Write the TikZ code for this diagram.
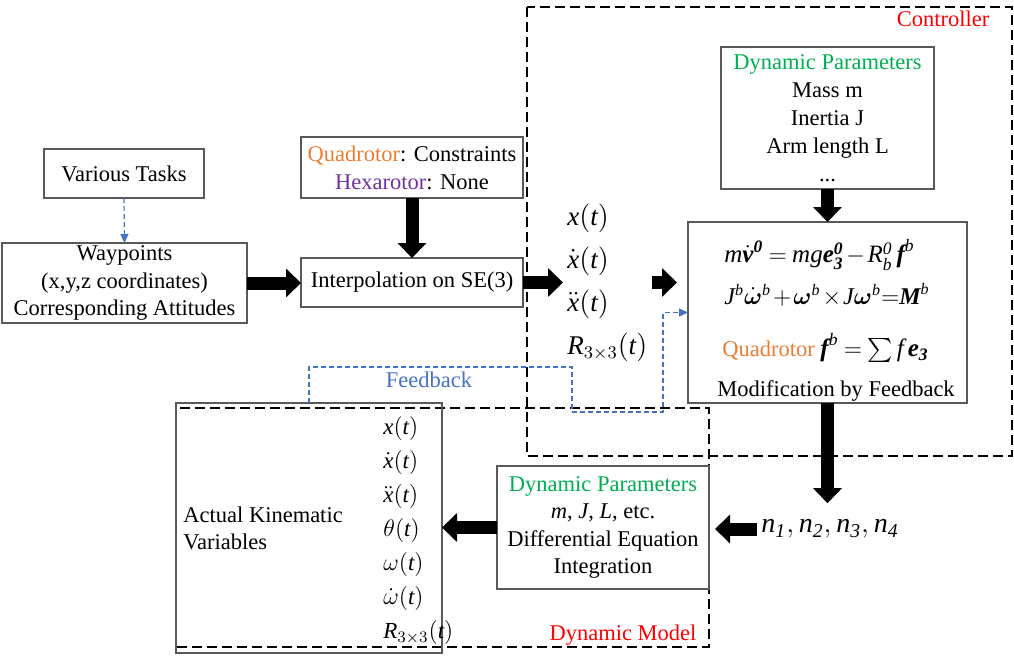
\documentclass[tikz,border=0pt]{standalone}
\usepackage{amsmath}
\usepackage{bm}
\usepackage{fontspec}
\setmainfont{Liberation Serif}
\newfontfamily\tmsfam{Liberation Serif}[NFSSFamily=tms]
\DeclareSymbolFont{tmsit}{TU}{tms}{m}{it}
\SetSymbolFont{tmsit}{bold}{TU}{tms}{b}{it}
\DeclareSymbolFont{tmsup}{TU}{tms}{m}{n}
\SetSymbolFont{tmsup}{bold}{TU}{tms}{b}{n}
\DeclareMathSymbol{b}{\mathalpha}{tmsit}{`b}\DeclareMathSymbol{e}{\mathalpha}{tmsit}{`e}
\DeclareMathSymbol{f}{\mathalpha}{tmsit}{`f}\DeclareMathSymbol{g}{\mathalpha}{tmsit}{`g}
\DeclareMathSymbol{m}{\mathalpha}{tmsit}{`m}\DeclareMathSymbol{n}{\mathalpha}{tmsit}{`n}
\DeclareMathSymbol{t}{\mathalpha}{tmsit}{`t}\DeclareMathSymbol{v}{\mathalpha}{tmsit}{`v}
\DeclareMathSymbol{x}{\mathalpha}{tmsit}{`x}\DeclareMathSymbol{J}{\mathalpha}{tmsit}{`J}
\DeclareMathSymbol{L}{\mathalpha}{tmsit}{`L}\DeclareMathSymbol{M}{\mathalpha}{tmsit}{`M}
\DeclareMathSymbol{R}{\mathalpha}{tmsit}{`R}
\DeclareMathSymbol{0}{\mathalpha}{tmsup}{`0}\DeclareMathSymbol{3}{\mathalpha}{tmsup}{`3}
\DeclareMathSymbol{(}{\mathopen}{tmsup}{`(}\DeclareMathSymbol{)}{\mathclose}{tmsup}{`)}
\newcommand{\itd}[1]{\mathit{#1}}
\newcommand{\tightmath}{\medmuskip=2mu\relax\thickmuskip=4mu\relax}
\usetikzlibrary{arrows.meta}
\definecolor{quadorange}{HTML}{ED7D31}
\definecolor{hexpurple}{HTML}{7030A0}
\definecolor{paramgreen}{HTML}{00B050}
\definecolor{fbblue}{HTML}{4472C4}

\begin{document}
\begin{tikzpicture}[x=0.5pt, y=-0.5pt,
	box/.style={draw=black!65, line width=0.6pt, inner sep=0pt, outer sep=0pt, align=center, font=\fontsize{11.25}{13.75}\selectfont},
	region/.style={line width=1pt, dash pattern=on 5pt off 2.5pt},
	bigarrow/.style={line width=6.5pt, -{Triangle[width=14pt,length=7.5pt]}},
	fbarrow/.style={draw=fbblue, line width=0.6pt, dash pattern=on 2.5pt off 1.5pt, -{Triangle[width=4pt,length=4.5pt]}},
	txt/.style={inner sep=0pt, font=\fontsize{11.25}{13.5}\selectfont},
	eqtxt/.style={inner sep=0pt, anchor=west, font=\fontsize{12.5}{14}\selectfont}
	]
		%%%%% START %%%%%
		\useasboundingbox (0,0) rectangle (1014,659);
		
		\draw[region] (527,7) rectangle (1012,456);
		\draw[region] (176,408) rectangle (709,647);
		
		\node[box, minimum width=80pt, minimum height=24.5pt] (tasks) at (124,173.5) {Various Tasks};
		\node[box, minimum width=122.5pt, minimum height=40pt] (waypts) at (124.5,283) {Waypoints\\(x,y,z coordinates)\\Corresponding Attitudes};
		\node[box, minimum width=111pt, minimum height=30.5pt, font=\fontsize{11.25}{14}\selectfont] (constr) at (412,167.5) {\textcolor{quadorange}{Quadrotor}: Constraints\\\textcolor{hexpurple}{Hexarotor}: None};
		\node[box, minimum width=111pt, minimum height=24.5pt] (interp) at (412,282.5) {Interpolation on SE(3)};
		
		\node[anchor=west, align=left, inner sep=2pt, font=\fontsize{13.5}{21.5}\selectfont] (traj) at (563,282.5) {$x(t)$\\$\dot x(t)$\\$\ddot x(t)$\\$R_{3\times3}(t)$};
		
		\node[box, minimum width=106.5pt, minimum height=71pt, font=\fontsize{11.25}{14}\selectfont] (dynpar) at (827.5,118) {\textcolor{paramgreen}{Dynamic Parameters}\\Mass m\\Inertia J\\Arm length L\\...};
		\node[box, minimum width=139.5pt, minimum height=90.5pt] (eqs) at (827.5,312.5) {};
		\node[eqtxt] (eqa) at (724,255) {$\tightmath m\dot{\bm v}^{\bm{\itd 0}}=mg\bm e_{\bm{\itd 3}}^{\bm{\itd 0}}-R_b^{\itd 0}\,\bm f^b$};
		\node[eqtxt, font=\fontsize{12}{14}\selectfont] (eqb) at (724,295) {$\medmuskip=1.5mu\relax J^b\dot{\bm\omega}^b+\bm\omega^b\times J\bm\omega^b{=}\bm M^b$};
		\node[eqtxt] (eqc) at (722,348) {\fontsize{11.25}{13.5}\selectfont\textcolor{quadorange}{Quadrotor} \fontsize{12.5}{15}\selectfont$\tightmath\bm f^b=\sum f\,\bm e_{\bm{\itd 3}}$};
		\node[txt] (eqd) at (836,391) {Modification by Feedback};
		
		\node[inner sep=2pt, font=\fontsize{14}{17}\selectfont] (nvars) at (830,529) {$n_{\itd 1},n_{\itd 2},n_{\itd 3},n_{\itd 4}$};
		
		\node[box, minimum width=106pt, minimum height=61.5pt] (integ) at (603,527.5) {\textcolor{paramgreen}{Dynamic Parameters}\\$m$, $J$, $L$, etc.\\Differential Equation\\Integration};
		\node[box, minimum width=133pt, minimum height=125pt] (actual) at (309,528) {};
		\node[txt, anchor=west, align=left] (kinlabel) at (183,528.5) {Actual Kinematic\\Variables};
		\node[anchor=west, align=left, inner sep=0pt, font=\fontsize{11.5}{17}\selectfont] (kinvars) at (383,530.5) {$x(t)$\\$\dot x(t)$\\$\ddot x(t)$\\$\theta(t)$\\$\omega(t)$\\$\dot\omega(t)$\\$R_{3\times3}(t)$};
		
		\node[txt, text=red] (ctrllabel) at (943,19) {Controller};
		\node[txt, text=red] (dynlabel) at (623,635) {Dynamic Model};
		\node[txt, text=fbblue] (fblabel) at (429,380) {Feedback};
		
		\draw[fbarrow] (tasks.south) -- (waypts.north);
		\draw[bigarrow] (waypts.east) -- (waypts.east -| interp.west);
		\draw[bigarrow] (constr.south) -- (interp.north);
		\draw[bigarrow] (interp.east) -- (interp.east -| traj.west);
		\draw[bigarrow, shorten >=5.5pt] (traj.east) -- (traj.east -| eqs.west);
		\draw[bigarrow] (dynpar.south) -- (eqs.north);
		\draw[bigarrow, shorten >=6pt] (eqs.south) -- (eqs.south |- nvars.north);
		\draw[bigarrow, shorten >=3pt] (nvars.west) -- (nvars.west -| integ.east);
		\draw[bigarrow] (integ.west) -- (integ.west -| actual.east);
		\draw[fbarrow] (actual.north) |- (572,367) |- (663,412) |- (eqs.west);
		
		%%%%% END %%%%%
\end{tikzpicture}
\end{document}
